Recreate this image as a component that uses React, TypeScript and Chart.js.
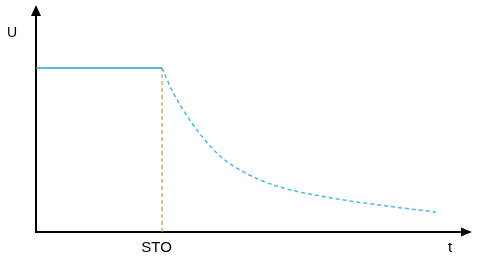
import { useEffect, useRef } from "react";
import { Chart, registerables } from "chart.js";

Chart.register(...registerables);

// Data (x in time units 0..10, y in voltage units 0..10)
const stoTime = 2.96;
const levelU = 7.56;
const holdX = [0, 2.96];
const decayX = [2.96, 3.19, 3.47, 3.85, 4.32, 4.79, 5.26, 5.73, 6.2, 6.67, 7.37, 8.08, 8.78, 9.39];
const decayY = [7.56, 6.54, 5.58, 4.52, 3.5, 2.86, 2.4, 2.07, 1.84, 1.66, 1.43, 1.24, 1.06, 0.92];
const xTickValues = [2.83, 9.72];
const xTickLabels = ["STO", "t"];
const yTickValues = [9.17];
const yTickLabels = ["U"];

const arrowPlugin = {
  id: "arrows",
  afterDraw(chart: any) {
    const { ctx, chartArea } = chart;
    const { left, right, top, bottom } = chartArea;
    ctx.save();
    ctx.fillStyle = "#000";
    ctx.beginPath();
    ctx.moveTo(left, top - 10);
    ctx.lineTo(left - 5, top + 1);
    ctx.lineTo(left + 5, top + 1);
    ctx.closePath();
    ctx.fill();
    ctx.beginPath();
    ctx.moveTo(right + 10, bottom);
    ctx.lineTo(right - 1, bottom - 4.5);
    ctx.lineTo(right - 1, bottom + 4.5);
    ctx.closePath();
    ctx.fill();
    ctx.restore();
  },
};

export default function App() {
  const ref = useRef<HTMLCanvasElement | null>(null);
  useEffect(() => {
    if (!ref.current) return;
    const chart = new Chart(ref.current, {
      type: "line",
      data: {
        datasets: [
          {
            data: holdX.map((x) => ({ x, y: levelU })),
            borderColor: "#1FA3D6",
            borderWidth: 1.5,
            pointRadius: 0,
          },
          {
            data: [
              { x: stoTime, y: 0 },
              { x: stoTime, y: levelU },
            ],
            borderColor: "#C9A02A",
            borderWidth: 1.2,
            borderDash: [4, 3],
            pointRadius: 0,
          },
          {
            data: decayX.map((x, i) => ({ x, y: decayY[i] })),
            borderColor: "#45BDE6",
            borderWidth: 1.5,
            borderDash: [4, 3],
            pointRadius: 0,
            cubicInterpolationMode: "monotone",
          },
        ],
      },
      options: {
        animation: false,
        responsive: false,
        layout: { padding: { left: 0, right: 19, top: 15, bottom: 0 } },
        plugins: { legend: { display: false }, tooltip: { enabled: false } },
        scales: {
          x: {
            type: "linear",
            min: 0,
            max: 10,
            grid: { display: false, drawTicks: false },
            border: { display: true, color: "#000", width: 2 },
            afterBuildTicks: (s: any) => {
              s.ticks = xTickValues.map((v) => ({ value: v }));
            },
            afterFit: (s: any) => {
              s.height = 33;
              s.paddingLeft = 0;
              s.paddingRight = 0;
            },
            ticks: {
              autoSkip: false,
              maxRotation: 0,
              padding: 7,
              color: "#000",
              font: { family: "Liberation Sans", size: 15 },
              callback: (v: any) => {
                const i = xTickValues.indexOf(Number(v));
                return i >= 0 ? xTickLabels[i] : "";
              },
            },
          },
          y: {
            type: "linear",
            min: 0,
            max: 10,
            grid: { display: false, drawTicks: false },
            border: { display: true, color: "#000", width: 2 },
            afterBuildTicks: (s: any) => {
              s.ticks = yTickValues.map((v) => ({ value: v }));
            },
            afterFit: (s: any) => {
              s.width = 36;
              s.paddingTop = 0;
              s.paddingBottom = 0;
            },
            ticks: {
              autoSkip: false,
              padding: 19,
              color: "#000",
              font: { family: "Liberation Sans", size: 14 },
              callback: (v: any) => {
                const i = yTickValues.indexOf(Number(v));
                return i >= 0 ? yTickLabels[i] : "";
              },
            },
          },
        },
      },
      plugins: [arrowPlugin],
    } as any);
    return () => chart.destroy();
  }, []);
  return (
    <div style={{ position: "fixed", left: 0, top: 0, width: 481, height: 265, background: "#fff" }}>
      <canvas ref={ref} width={481} height={265} style={{ width: 481, height: 265 }} />
    </div>
  );
}
